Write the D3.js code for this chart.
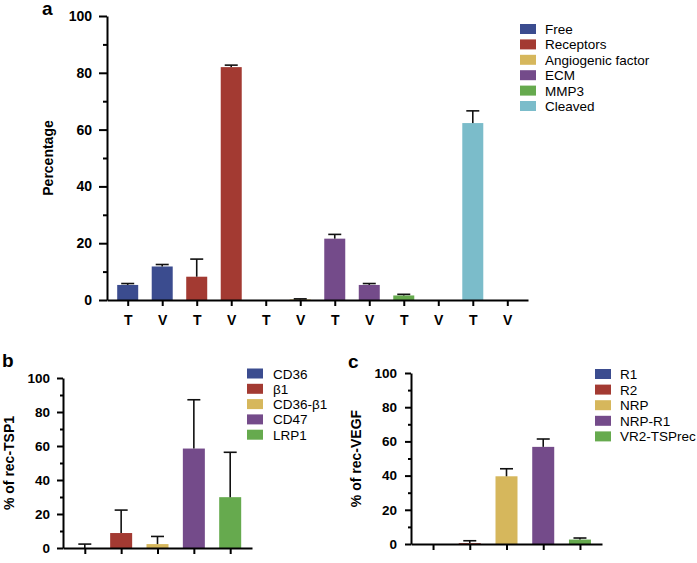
<!DOCTYPE html>
<html>
<head>
<meta charset="utf-8">
<script src="https://cdn.jsdelivr.net/npm/d3@7"></script>
<style>
  body { margin: 0; background: #fff; }
  svg { font-family: "Liberation Sans", Arial, Helvetica, sans-serif; }
  .axis path, .axis line { stroke: #000; stroke-width: 2; }
  .axis text { font-weight: bold; fill: #000; }
</style>
</head>
<body>
<script>
// panel a: distribution of TSP1 (T) and VEGF (V)
var groupsA = ["Free", "Receptors", "Angiogenic factor", "ECM", "MMP3", "Cleaved"];
var condsA = ["T", "V"];
var meanA = [5.3, 11.8, 8.2, 82.0, 0, 0.2, 21.6, 5.3, 1.6, 0, 62.3, 0];
var errA  = [0.5, 0.7, 6.2, 0.7, 0, 0.2, 1.5, 0.5, 0.4, 0, 4.3, 0];

// panel b: % of rec-TSP1
var groupsB = ["CD36", "\u03b21", "CD36-\u03b21", "CD47", "LRP1"];
var meanB = [0, 8.8, 2.3, 58.5, 29.9];
var errB  = [2.3, 13.5, 4.5, 28.7, 26.4];

// panel c: % of rec-VEGF
var groupsC = ["R1", "R2", "NRP", "NRP-R1", "VR2-TSPrec"];
var meanC = [0, 0.5, 39.6, 56.8, 2.6];
var errC  = [0, 1.4, 4.4, 4.6, 0.9];

var yTicks = [0, 20, 40, 60, 80, 100];
var yMinor = [10, 30, 50, 70, 90];

var palette = ["#3b4c8f", "#a33a32", "#d6b75c", "#744b8a", "#66aa4e", "#7bbcca"];

var width = 697, height = 563;
var svg = d3.select("body").append("svg")
    .attr("width", width)
    .attr("height", height);

//draw one bar panel
function drawPanel(o){
    var g = svg.append("g");

    var x = d3.scalePoint()
        .domain(d3.range(o.mean.length))
        .range([o.left, o.right])
        .padding(0.6);

    var y = d3.scaleLinear()
        .domain([0, 100])
        .range([o.bottom, o.top]);

    //bars
    g.selectAll(".bar")
        .data(o.mean)
        .enter()
        .append("rect")
        .attr("class", "bar")
        .attr("x", function(d, i){ return x(i) - o.barW / 2; })
        .attr("y", function(d){ return y(d); })
        .attr("width", o.barW)
        .attr("height", function(d){ return y(0) - y(d); })
        .attr("fill", function(d, i){ return palette[o.color(i)]; });

    //error bars
    var eb = g.selectAll(".err")
        .data(o.mean.map(function(d, i){ return {m: d, e: o.err[i], i: i}; })
            .filter(function(d){ return d.e > 0; }))
        .enter()
        .append("g")
        .attr("class", "err")
        .attr("stroke", "#111")
        .attr("stroke-width", 1.6);
    eb.append("line")
        .attr("x1", function(d){ return x(d.i); })
        .attr("x2", function(d){ return x(d.i); })
        .attr("y1", function(d){ return y(d.m); })
        .attr("y2", function(d){ return y(d.m + d.e); });
    eb.append("line")
        .attr("x1", function(d){ return x(d.i) - 6.5; })
        .attr("x2", function(d){ return x(d.i) + 6.5; })
        .attr("y1", function(d){ return y(d.m + d.e); })
        .attr("y2", function(d){ return y(d.m + d.e); });

    //axes
    var xAxis = d3.axisBottom(x)
        .tickSize(6)
        .tickSizeOuter(0)
        .tickPadding(9)
        .tickFormat(o.xLabel || function(){ return ""; });
    g.append("g")
        .attr("class", "axis")
        .attr("transform", "translate(0," + o.bottom + ")")
        .call(xAxis)
        .selectAll("text")
        .style("font-size", "14px");

    g.append("g")
        .attr("class", "axis")
        .attr("transform", "translate(" + o.left + ",0)")
        .call(d3.axisLeft(y).tickValues(yTicks).tickSize(o.tick).tickSizeOuter(0).tickPadding(o.pad))
        .selectAll("text")
        .style("font-size", o.font + "px");

    g.append("g")
        .attr("class", "axis")
        .attr("transform", "translate(" + o.left + ",0)")
        .call(d3.axisLeft(y).tickValues(yMinor).tickSize(o.tick / 2).tickFormat(""))
        .select(".domain").remove();

    //y title
    g.append("text")
        .attr("transform", "translate(" + o.titleX + "," + (o.top + o.bottom) / 2 + ") rotate(-90)")
        .attr("text-anchor", "middle")
        .style("font-size", "14px")
        .style("font-weight", "bold")
        .text(o.title);

    //panel letter
    g.append("text")
        .attr("x", o.letterX)
        .attr("y", o.letterY)
        .style("font-size", "19px")
        .style("font-weight", "bold")
        .text(o.letter);

    //legend
    var leg = g.selectAll(".leg")
        .data(o.legend)
        .enter()
        .append("g")
        .attr("class", "leg")
        .attr("transform", function(d, i){ return "translate(" + o.legX + "," + (o.legY + i * o.legStep) + ")"; });
    leg.append("rect")
        .attr("x", 0)
        .attr("y", -5)
        .attr("width", 16)
        .attr("height", 10)
        .attr("fill", function(d, i){ return palette[i]; });
    leg.append("text")
        .attr("x", o.legText)
        .attr("y", 5)
        .style("font-size", "13.5px")
        .text(function(d){ return d; });
}

drawPanel({
    mean: meanA, err: errA,
    color: function(i){ return Math.floor(i / condsA.length); },
    xLabel: function(i){ return condsA[i % condsA.length]; },
    left: 107, right: 528, top: 16, bottom: 300, barW: 21,
    tick: 8, pad: 7, font: 14,
    title: "Percentage", titleX: 53,
    letter: "a", letterX: 42, letterY: 15,
    legend: groupsA, legX: 520, legY: 29, legStep: 15.4, legText: 25
});

drawPanel({
    mean: meanB, err: errB,
    color: function(i){ return i; },
    left: 63, right: 252, top: 378, bottom: 548, barW: 22,
    tick: 6, pad: 7, font: 13.5,
    title: "% of rec-TSP1", titleX: 14,
    letter: "b", letterX: 2, letterY: 367,
    legend: groupsB, legX: 247, legY: 373.5, legStep: 15.3, legText: 26
});

drawPanel({
    mean: meanC, err: errC,
    color: function(i){ return i; },
    left: 411, right: 602, top: 373, bottom: 544, barW: 22,
    tick: 6, pad: 8, font: 13.5,
    title: "% of rec-VEGF", titleX: 361,
    letter: "c", letterX: 348, letterY: 368,
    legend: groupsC, legX: 595, legY: 374, legStep: 15.6, legText: 25
});
</script>
</body>
</html>
